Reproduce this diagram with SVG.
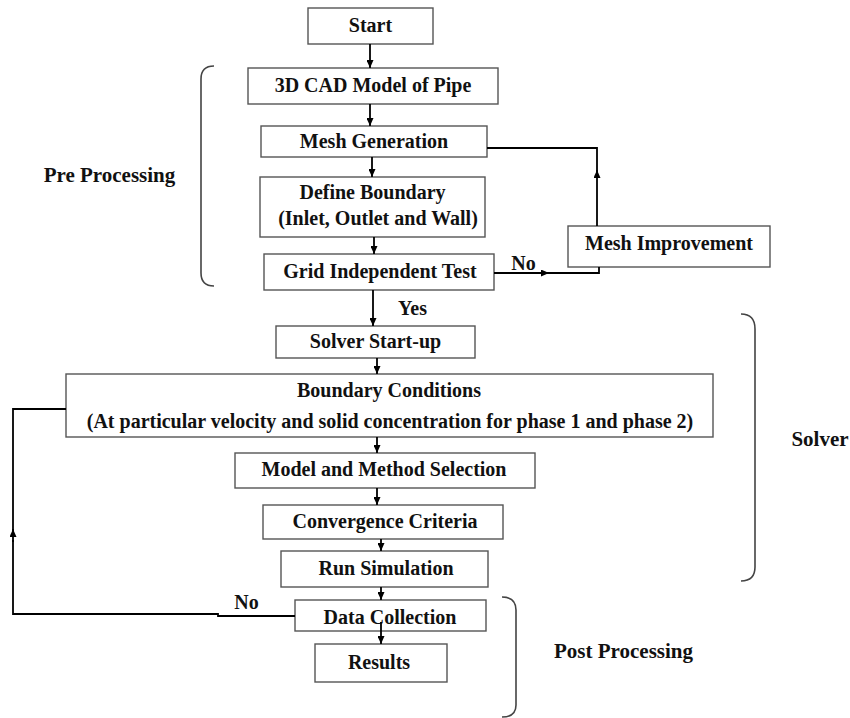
<svg xmlns="http://www.w3.org/2000/svg" width="850" height="718" viewBox="0 0 850 718">
<defs>
<marker id="ah" viewBox="0 0 10 10" refX="10" refY="5" markerWidth="8" markerHeight="7" orient="auto" markerUnits="userSpaceOnUse" preserveAspectRatio="none">
<path d="M0,0 L10,5 L0,10 z" fill="#000"/>
</marker>
<style>
.box{fill:#fff;stroke:#555;stroke-width:1.4}
.t{font-family:"Liberation Serif","Times New Roman",serif;font-weight:bold;font-size:20px;fill:#111;text-anchor:middle}
.lbl{font-family:"Liberation Serif","Times New Roman",serif;font-weight:bold;font-size:21px;fill:#111;text-anchor:middle}
.c{fill:none;stroke:#000;stroke-width:1.8}
.ca{fill:none;stroke:#000;stroke-width:1.8;marker-end:url(#ah)}
.brace{fill:none;stroke:#444;stroke-width:1.6}
</style>
</defs>
<rect width="850" height="718" fill="#fff"/>

<g id="start"><rect class="box" x="308" y="8" width="125" height="36"/><text class="t" x="370.5" y="32">Start</text></g>
<g id="cad"><rect class="box" x="248" y="68" width="250" height="36"/><text class="t" x="373" y="92">3D CAD Model of Pipe</text></g>
<g id="mesh"><rect class="box" x="261" y="126" width="226" height="31"/><text class="t" x="374" y="148">Mesh Generation</text></g>
<g id="boundary"><rect class="box" x="260" y="177" width="225" height="60"/><text class="t" x="372.5" y="199">Define Boundary</text><text class="t" x="378" y="225">(Inlet, Outlet and Wall)</text></g>
<g id="grid"><rect class="box" x="264" y="254" width="230" height="36"/><text class="t" x="380" y="278">Grid Independent Test</text></g>
<g id="meshimp"><rect class="box" x="568" y="226" width="202" height="41"/><text class="t" x="669" y="250">Mesh Improvement</text></g>
<g id="solver"><rect class="box" x="276" y="326" width="199" height="32"/><text class="t" x="375.5" y="348">Solver Start-up</text></g>
<g id="bc"><rect class="box" x="66" y="374" width="647" height="63"/><text class="t" x="389" y="397">Boundary Conditions</text><text class="t" x="390" y="428">(At particular velocity and solid concentration for phase 1 and phase 2)</text></g>
<g id="model"><rect class="box" x="235" y="453" width="300" height="35"/><text class="t" x="384" y="476">Model and Method Selection</text></g>
<g id="conv"><rect class="box" x="263" y="505" width="240" height="34"/><text class="t" x="385" y="528">Convergence Criteria</text></g>
<g id="run"><rect class="box" x="281" y="551" width="207" height="36"/><text class="t" x="386" y="575">Run Simulation</text></g>
<g id="data"><rect class="box" x="295" y="600" width="191" height="31"/><text class="t" x="390" y="624">Data Collection</text></g>
<g id="results"><rect class="box" x="315" y="644" width="132" height="38"/><text class="t" x="379" y="669">Results</text></g>

<g id="connectors">
<line class="ca" x1="370" y1="44" x2="370" y2="68"/>
<line class="ca" x1="370" y1="104" x2="370" y2="126"/>
<line class="ca" x1="372" y1="157" x2="372" y2="177"/>
<line class="ca" x1="374" y1="237" x2="374" y2="254"/>
<line class="ca" x1="373" y1="290" x2="373" y2="326"/>
<line class="ca" x1="377" y1="358" x2="377" y2="374"/>
<line class="ca" x1="377" y1="437" x2="377" y2="453"/>
<line class="ca" x1="377" y1="488" x2="377" y2="505"/>
<line class="ca" x1="381" y1="539" x2="381" y2="551"/>
<line class="ca" x1="381" y1="587" x2="381" y2="600"/>
<line class="ca" x1="381" y1="622" x2="381" y2="644"/>
<line class="ca" x1="494" y1="273" x2="549" y2="273"/>
<polyline class="c" points="546,273 599,273 599,267"/>
<line class="ca" x1="597" y1="226" x2="597" y2="170"/>
<polyline class="c" points="597,174 597,148 487,148"/>
<polyline class="c" points="295,616 218,616 218,614 13,614 13,540"/>
<line class="ca" x1="13" y1="542" x2="13" y2="529"/>
<polyline class="c" points="13,531 13,409 66,409"/>
<text class="t" x="523.5" y="270">No</text>
<text class="t" x="412.5" y="315">Yes</text>
<text class="t" x="246.5" y="609">No</text>
</g>

<g id="pre-brace"><path class="brace" d="M214,66 Q201,66 201,79 L201,273 Q201,286 214,286"/><text class="lbl" x="109.5" y="182">Pre Processing</text></g>
<g id="solver-brace"><path class="brace" d="M741,314 Q755,314 755,329 L755,567 Q755,581 741,581"/><text class="lbl" x="820" y="446">Solver</text></g>
<g id="post-brace"><path class="brace" d="M502,597 Q516,597 516,610 L516,705 Q516,717 502,717"/><text class="lbl" x="623.5" y="658">Post Processing</text></g>
</svg>
